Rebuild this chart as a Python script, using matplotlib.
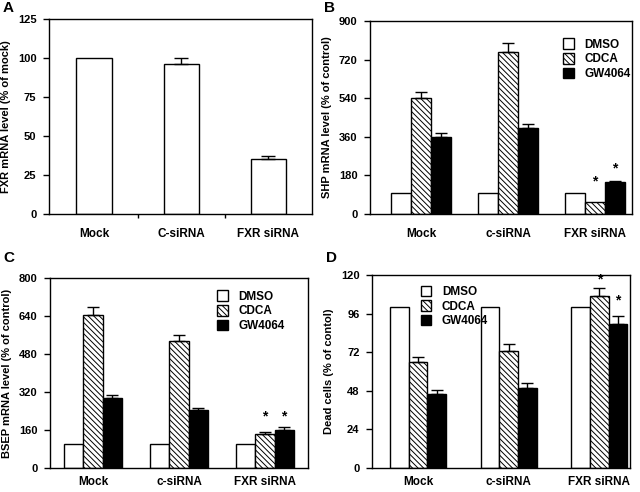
import numpy as np
import matplotlib
matplotlib.use("Agg")
import matplotlib.pyplot as plt

plt.rcParams['font.family'] = ['Liberation Sans', 'DejaVu Sans']
plt.rcParams['font.weight'] = 'bold'
plt.rcParams['hatch.linewidth'] = 0.7

groups_a = ['Mock', 'C-siRNA', 'FXR siRNA']
fxr = [100, 96.2, 35.4]
fxr_err = [0, 3.6, 2.1]

groups = ['Mock', 'c-siRNA', 'FXR siRNA']
treatments = ['DMSO', 'CDCA', 'GW4064']

shp_dmso = [100, 100, 100]
shp_cdca = [542, 757, 54]
shp_cdca_err = [26, 41, 0]
shp_gw = [361, 403, 147]
shp_gw_err = [15, 17, 5]

bsep_dmso = [100, 100, 100]
bsep_cdca = [643, 534, 143]
bsep_cdca_err = [36, 25, 10]
bsep_gw = [295, 243, 161]
bsep_gw_err = [11, 11, 10]

dead_dmso = [100, 100, 100]
dead_cdca = [65.6, 72.9, 106.8]
dead_cdca_err = [3.3, 3.9, 5.1]
dead_gw = [46.0, 49.9, 89.8]
dead_gw_err = [2.3, 2.9, 4.5]

fig = plt.figure(figsize=(6.4, 4.92), dpi=100)


def up_err(ax, x, vals, errs, cap=4):
    # one-sided error bars, skipped where no error was drawn
    x = np.asarray(x, float)
    vals = np.asarray(vals, float)
    errs = np.asarray(errs, float)
    m = errs > 0
    ax.errorbar(x[m], vals[m], yerr=[np.zeros(m.sum()), errs[m]], fmt='none',
                ecolor='black', elinewidth=1, capsize=cap, capthick=1)


def style_axes(ax, ylim, yticks, ylabel, xpad=10):
    ax.set_ylim(*ylim)
    ax.set_yticks(yticks)
    ax.tick_params(axis='y', direction='out', length=4, width=1, labelsize=8, pad=5)
    ax.tick_params(axis='x', length=0, labelsize=8.5, pad=xpad)
    for s in ax.spines.values():
        s.set_linewidth(1)
    ax.set_ylabel(ylabel, fontsize=8, fontweight='bold', labelpad=5)
    for lab in ax.get_xticklabels() + ax.get_yticklabels():
        lab.set_fontweight('bold')


def grouped(ax, dmso, cdca, cdca_err, gw, gw_err, w, xlim):
    x = np.arange(len(groups))
    ax.bar(x - w, dmso, w, color='white', edgecolor='black', linewidth=1, label=treatments[0])
    ax.bar(x, cdca, w, color='white', edgecolor='black', linewidth=1, hatch='\\\\\\\\\\\\',
           label=treatments[1])
    ax.bar(x + w, gw, w, color='black', edgecolor='black', linewidth=1, label=treatments[2])
    up_err(ax, x, cdca, cdca_err)
    up_err(ax, x + w, gw, gw_err)
    ax.set_xticks(x)
    ax.set_xticklabels(groups)
    ax.set_xlim(*xlim)
    return x


def legend(ax, anchor):
    leg = ax.legend(loc='upper left', bbox_to_anchor=anchor, frameon=False,
                    prop={'weight': 'bold', 'size': 8.5}, handlelength=0.9,
                    handleheight=1.0, handletextpad=0.9, labelspacing=0.2,
                    borderaxespad=0)
    return leg


# A
axA = fig.add_axes([49 / 640, 1 - 214 / 492, 263 / 640, 195 / 492])
xa = np.arange(3)
axA.bar(xa, fxr, 0.41, color='white', edgecolor='black', linewidth=1)
up_err(axA, xa, fxr, fxr_err, cap=5)
axA.set_xticks(xa)
axA.set_xticklabels(groups_a)
axA.set_xticks([0.5, 1.5], minor=True)
axA.tick_params(axis='x', which='minor', direction='out', length=3, width=1)
axA.set_xlim(-0.52, 2.5)
style_axes(axA, (0, 125), [0, 25, 50, 75, 100, 125], 'FXR mRNA level (% of mock)')

# B
axB = fig.add_axes([370 / 640, 1 - 214 / 492, 262 / 640, 193 / 492])
xb = grouped(axB, shp_dmso, shp_cdca, shp_cdca_err, shp_gw, shp_gw_err, 0.23, (-0.586, 2.425))
style_axes(axB, (0, 900), [0, 180, 360, 540, 720, 900], 'SHP mRNA level (% of control)')
legend(axB, (0.72, 0.935))
axB.text(xb[2], 152, '*', ha='center', va='center', fontsize=10)
axB.text(xb[2] + 0.23, 210, '*', ha='center', va='center', fontsize=10)

# C
axC = fig.add_axes([50 / 640, 1 - 468 / 492, 258 / 640, 190 / 492])
xc = grouped(axC, bsep_dmso, bsep_cdca, bsep_cdca_err, bsep_gw, bsep_gw_err, 0.222, (-0.5, 2.5))
style_axes(axC, (0, 800), [0, 160, 320, 480, 640, 800], 'BSEP mRNA level (% of control)', xpad=6)
legend(axC, (0.63, 0.96))
axC.text(xc[2], 216, '*', ha='center', va='center', fontsize=10)
axC.text(xc[2] + 0.222, 216, '*', ha='center', va='center', fontsize=10)

# D
axD = fig.add_axes([372 / 640, 1 - 468 / 492, 258 / 640, 193 / 492])
xd = grouped(axD, dead_dmso, dead_cdca, dead_cdca_err, dead_gw, dead_gw_err, 0.205, (-0.51, 2.34))
style_axes(axD, (0, 120), [0, 24, 48, 72, 96, 120], 'Dead cells (% of contol)', xpad=6)
legend(axD, (0.17, 0.97))
axD.text(xd[2], 117.5, '*', ha='center', va='center', fontsize=10)
axD.text(xd[2] + 0.205, 104, '*', ha='center', va='center', fontsize=10)

for lab, (x, y) in zip('ABCD', [(3, 8), (324, 8), (3, 258), (326, 258)]):
    fig.text(x / 640, 1 - y / 492, lab, fontsize=11, fontweight='bold', va='center')

fig.savefig('out.png', dpi=100)
